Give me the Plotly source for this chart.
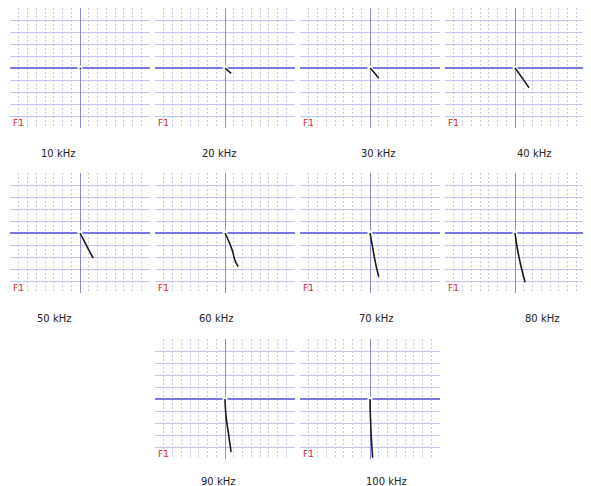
import plotly.graph_objects as go

W, H = 583, 478   # page body has an 8px margin in the browser
OFF = 8

freq_labels = ["10 kHz", "20 kHz", "30 kHz", "40 kHz", "50 kHz",
               "60 kHz", "70 kHz", "80 kHz", "90 kHz", "100 kHz"]

# trace points (x in horizontal divisions, y in vertical divisions), origin at screen centre
curve_x = [
    [0.0, 0.1],
    [0.0, 0.3, 0.7],
    [0.0, 0.5, 1.0],
    [0.0, 0.7, 1.6],
    [0.0, 0.5, 1.0, 1.5],
    [0.0, 0.5, 0.9, 1.1, 1.5],
    [0.0, 0.3, 0.6, 1.0],
    [0.0, 0.2, 0.6, 1.15],
    [0.0, 0.1, 0.4, 0.7],
    [0.0, 0.05, 0.15, 0.3],
]
curve_y = [
    [0.0, -0.1],
    [0.0, -0.2, -0.45],
    [0.0, -0.4, -0.85],
    [0.0, -0.7, -1.65],
    [0.0, -0.7, -1.4, -2.1],
    [0.0, -0.8, -1.6, -2.2, -2.8],
    [0.0, -1.2, -2.4, -3.65],
    [0.0, -1.0, -2.5, -4.1],
    [0.0, -1.3, -2.9, -4.4],
    [0.0, -1.5, -3.2, -4.9],
]

# layout in screen pixels
panel_left = [10, 155, 300, 445, 10, 155, 300, 445, 155, 300]
panel_cy = [68, 68, 68, 68, 233, 233, 233, 233, 399, 399]
label_cx = [58, 219, 378, 534, 54, 216, 376, 542, 218, 386]
label_cy = [153, 153, 153, 153, 318, 318, 318, 318, 481, 481]
PW, PH = 140, 120

fig = go.Figure()
annotations = []
layout = {}
grid_col = "#c4c4f0"
axis_blue = "#7878e0"

for i in range(10):
    n = "" if i == 0 else str(i + 1)
    left = panel_left[i] - OFF
    top = panel_cy[i] - PH / 2 - OFF
    xd = [left / W, (left + PW) / W]
    yd = [1 - (top + PH) / H, 1 - top / H]
    layout["xaxis" + n] = dict(
        domain=xd, range=[-8, 8], anchor="y" + n,
        tickvals=list(range(-8, 9)), showticklabels=False, ticks="",
        showgrid=True, gridcolor=grid_col, griddash="2px,2px", gridwidth=1,
        zeroline=True, zerolinecolor="#8888e6", zerolinewidth=1,
        showline=False, fixedrange=True)
    layout["yaxis" + n] = dict(
        domain=yd, range=[-5, 5], anchor="x" + n,
        tickvals=list(range(-4, 5)), showticklabels=False, ticks="",
        showgrid=True, gridcolor=grid_col, gridwidth=1,
        zeroline=True, zerolinecolor=axis_blue, zerolinewidth=2,
        showline=False, fixedrange=True)
    fig.add_trace(go.Scatter(
        x=[0], y=[0], xaxis="x" + n, yaxis="y" + n, mode="markers",
        marker=dict(symbol="square", size=5, color="white"),
        showlegend=False, hoverinfo="skip"))
    fig.add_trace(go.Scatter(
        x=curve_x[i], y=curve_y[i], xaxis="x" + n, yaxis="y" + n,
        mode="lines", line=dict(color="#1a1a1a", width=1.6, shape="spline"),
        showlegend=False))
    annotations.append(dict(
        x=(left + 1) / W, y=1 - (panel_cy[i] + 55 - OFF) / H, xref="paper", yref="paper",
        text="F1", showarrow=False, xanchor="left", yanchor="middle",
        font=dict(family="DejaVu Sans", size=9, color="#e02020")))
    annotations.append(dict(
        x=(label_cx[i] - OFF) / W, y=1 - (label_cy[i] - OFF) / H, xref="paper", yref="paper",
        text=freq_labels[i], showarrow=False, xanchor="center", yanchor="middle",
        font=dict(family="DejaVu Sans", size=10, color="#222222")))

fig.update_layout(
    width=W, height=H, margin=dict(l=0, r=0, t=0, b=0),
    paper_bgcolor="white", plot_bgcolor="white",
    annotations=annotations, **layout)

fig.write_html("out.html")
